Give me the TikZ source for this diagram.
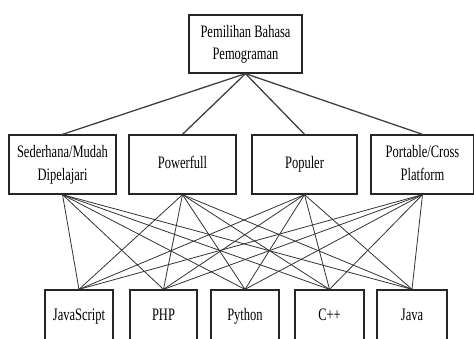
\documentclass[tikz,border=0pt]{standalone}
\usepackage{fontspec}
\usepackage{graphicx}
\setmainfont{Liberation Serif}
\newcommand{\boxtext}[1]{\scalebox{1}[1.4]{\fontsize{12.5}{16}\selectfont\begin{tabular}{@{}c@{}}#1\end{tabular}}}
\begin{document}
\begin{tikzpicture}[x=1pt,y=-1pt,
  box/.style={draw=black!85,line width=1.3pt,inner sep=0pt,align=center,fill=white},
  upline/.style={draw=black!75,line width=1.3pt},
  lowline/.style={draw=black!80,line width=0.8pt}]
\useasboundingbox (0,0) rectangle (474,339);
\clip (0,0) rectangle (474,339);
\node[box,minimum width=113pt,minimum height=58pt] (top) at (245.5,44) {\boxtext{Pemilihan Bahasa\\Pemograman}};
\node[box,minimum width=107pt,minimum height=59pt] (m1) at (62.5,164.5) {\boxtext{Sederhana/Mudah\\Dipelajari}};
\node[box,minimum width=107pt,minimum height=59pt] (m2) at (182.5,164.5) {\boxtext{Powerfull}};
\node[box,minimum width=105pt,minimum height=59pt] (m3) at (304.5,164.5) {\boxtext{Populer}};
\node[box,minimum width=103pt,minimum height=59pt] (m4) at (422.5,164.5) {\boxtext{Portable/Cross\\Platform}};
\node[box,minimum width=68pt,minimum height=52pt] (b1) at (79,316) {\boxtext{JavaScript}};
\node[box,minimum width=67pt,minimum height=52pt] (b2) at (163.5,316) {\boxtext{PHP}};
\node[box,minimum width=68pt,minimum height=52pt] (b3) at (245,316) {\boxtext{Python}};
\node[box,minimum width=69pt,minimum height=52pt] (b4) at (329.5,316) {\boxtext{C++}};
\node[box,minimum width=70pt,minimum height=52pt] (b5) at (412,316) {\boxtext{Java}};
\foreach \m in {m1,m2,m3,m4}{
  \draw[upline] (top.south) -- (\m.north);
  \foreach \b in {b1,b2,b3,b4,b5}{
    \draw[lowline] (\m.south) -- (\b.north);
  }
}
\end{tikzpicture}
\end{document}
